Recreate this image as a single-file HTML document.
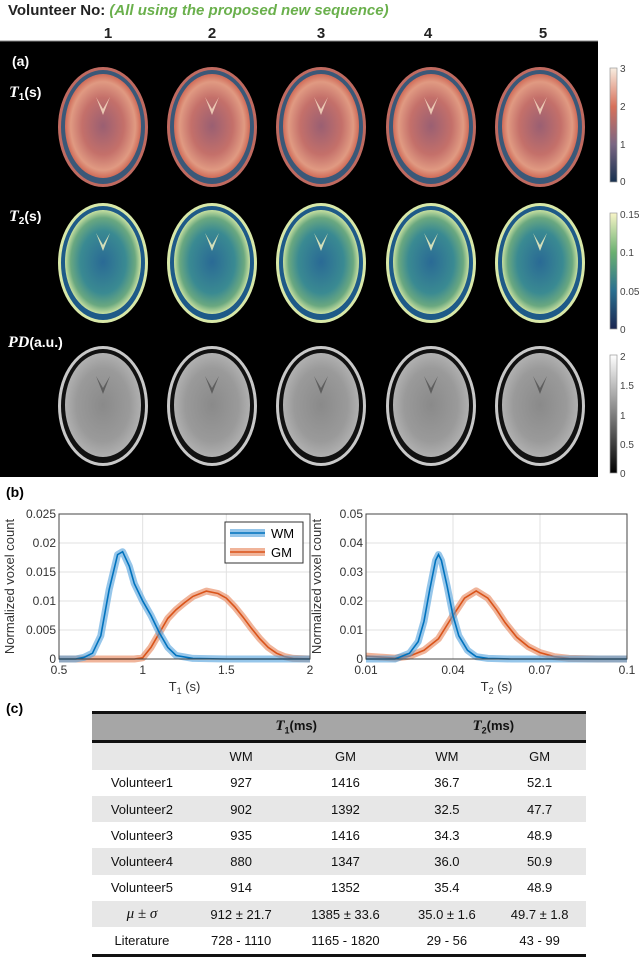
<!DOCTYPE html>
<html><head><meta charset="utf-8"><style>
body{margin:0;width:640px;height:953px;background:#fff;position:relative;overflow:hidden;font-family:"Liberation Sans",sans-serif}
.abs{position:absolute}
#tbl{position:absolute;left:92px;top:711px;width:494px;border-collapse:collapse;font-size:13px;color:#111}
#tbl td{height:26.3px;text-align:center;padding:0}
</style></head><body>
<div class="abs" style="left:8px;top:2px;font-size:15px;font-weight:bold;color:#222">Volunteer No: <i style="color:#6ab04c">(All using the proposed new sequence)</i></div>
<svg class="abs" style="left:0;top:0" width="640" height="490">
<defs>
<radialGradient id="g1" cx="50%" cy="50%" r="50%"><stop offset="0" stop-color="#9a5f72"/><stop offset="0.55" stop-color="#c4706a"/><stop offset="0.85" stop-color="#e09a82"/><stop offset="1" stop-color="#d06b58"/></radialGradient>
<radialGradient id="g2" cx="50%" cy="50%" r="50%"><stop offset="0" stop-color="#2a6a95"/><stop offset="0.6" stop-color="#3a8a92"/><stop offset="0.85" stop-color="#6aa880"/><stop offset="1" stop-color="#c8e0a0"/></radialGradient>
<radialGradient id="g3" cx="50%" cy="50%" r="50%"><stop offset="0" stop-color="#8a8a8a"/><stop offset="0.7" stop-color="#9a9a9a"/><stop offset="1" stop-color="#b0b0b0"/></radialGradient>
<linearGradient id="c1" x1="0" y1="1" x2="0" y2="0"><stop offset="0" stop-color="#17304f"/><stop offset="0.33" stop-color="#7a6683"/><stop offset="0.66" stop-color="#d7705a"/><stop offset="1" stop-color="#f8ede0"/></linearGradient>
<linearGradient id="c2" x1="0" y1="1" x2="0" y2="0"><stop offset="0" stop-color="#1a2550"/><stop offset="0.33" stop-color="#2a7090"/><stop offset="0.66" stop-color="#6ab070"/><stop offset="1" stop-color="#f8f5c8"/></linearGradient>
<linearGradient id="c3" x1="0" y1="1" x2="0" y2="0"><stop offset="0" stop-color="#000"/><stop offset="1" stop-color="#fff"/></linearGradient>
</defs>
<rect x="0" y="41" width="598" height="436" fill="#000"/>
<line x1="0" y1="41" x2="598" y2="41" stroke="#888"/>
<g font-family="Liberation Sans" font-weight="bold" font-size="15" fill="#222" text-anchor="middle">
<text x="108" y="38">1</text>
<text x="212" y="38">2</text>
<text x="321" y="38">3</text>
<text x="428" y="38">4</text>
<text x="543" y="38">5</text>
</g>
<g fill="#fff" font-weight="bold" font-size="14">
<text x="12" y="66" font-family="Liberation Sans">(a)</text>
<text x="9" y="97"><tspan font-family="Liberation Serif" font-style="italic" font-size="16">T</tspan><tspan font-size="10" dy="3">1</tspan><tspan dy="-3" font-family="Liberation Sans">(s)</tspan></text>
<text x="9" y="221"><tspan font-family="Liberation Serif" font-style="italic" font-size="16">T</tspan><tspan font-size="10" dy="3">2</tspan><tspan dy="-3" font-family="Liberation Sans">(s)</tspan></text>
<text x="8" y="347"><tspan font-family="Liberation Serif" font-style="italic" font-size="16">PD</tspan><tspan font-family="Liberation Sans">(a.u.)</tspan></text>
</g>
<g id="brains"></g>
<g font-size="10" fill="#444" font-family="Liberation Sans">
<rect x="610" y="68" width="7" height="114" fill="url(#c1)" stroke="#999" stroke-width="0.7"/>
<text x="620" y="72">3</text><text x="620" y="110">2</text><text x="620" y="148">1</text><text x="620" y="185">0</text>
<rect x="610" y="213" width="7" height="116" fill="url(#c2)" stroke="#999" stroke-width="0.7"/>
<text x="620" y="218">0.15</text><text x="620" y="256">0.1</text><text x="620" y="295">0.05</text><text x="620" y="333">0</text>
<rect x="610" y="355" width="7" height="118" fill="url(#c3)" stroke="#999" stroke-width="0.7"/>
<text x="620" y="360">2</text><text x="620" y="389">1.5</text><text x="620" y="419">1</text><text x="620" y="448">0.5</text><text x="620" y="477">0</text>
</g>
</svg>
<div class="abs" style="left:6px;top:484px;font-size:14px;font-weight:bold">(b)</div>
<svg class="abs" style="left:0;top:490px" width="640" height="210" id="charts"></svg>
<div class="abs" style="left:6px;top:700px;font-size:14px;font-weight:bold">(c)</div>
<table id="tbl">
<tr style="background:#a6a6a6;border-top:3px solid #111;border-bottom:3px solid #111"><td style="height:25px"></td><td colspan="2"><b><i style="font-family:'Liberation Serif';font-size:15px">T</i><sub style="font-size:9px">1</sub>(ms)</b></td><td colspan="2"><b><i style="font-family:'Liberation Serif';font-size:15px">T</i><sub style="font-size:9px">2</sub>(ms)</b></td></tr>
<tr style="background:#e7e7e7"><td></td><td>WM</td><td>GM</td><td>WM</td><td>GM</td></tr>
<tr><td>Volunteer1</td><td>927</td><td>1416</td><td>36.7</td><td>52.1</td></tr>
<tr style="background:#e7e7e7"><td>Volunteer2</td><td>902</td><td>1392</td><td>32.5</td><td>47.7</td></tr>
<tr><td>Volunteer3</td><td>935</td><td>1416</td><td>34.3</td><td>48.9</td></tr>
<tr style="background:#e7e7e7"><td>Volunteer4</td><td>880</td><td>1347</td><td>36.0</td><td>50.9</td></tr>
<tr><td>Volunteer5</td><td>914</td><td>1352</td><td>35.4</td><td>48.9</td></tr>
<tr style="background:#e7e7e7"><td><i style="font-family:'Liberation Serif';font-size:15px">μ ± σ</i></td><td>912 ± 21.7</td><td>1385 ± 33.6</td><td>35.0 ± 1.6</td><td>49.7 ± 1.8</td></tr>
<tr style="border-bottom:3px solid #111"><td>Literature</td><td>728 - 1110</td><td>1165 - 1820</td><td>29 - 56</td><td>43 - 99</td></tr>
</table>
<script>
const brainCenters=[103,212,321,431,540];
const NS="http://www.w3.org/2000/svg";
const bg=document.getElementById('brains');
function mk(t,a){const e=document.createElementNS(NS,t);for(const k in a)e.setAttribute(k,a[k]);return e;}
const rows=[{cy:127,ring:'#3a5878',fill:'url(#g1)',outer:'#c06a60',id:'t1',mark:'#f4d8c0'},{cy:263,ring:'#1e5a88',fill:'url(#g2)',outer:'#d8e8a8',id:'t2',mark:'#f0f0c0'},{cy:406,ring:'#111',fill:'url(#g3)',outer:'#c8c8c8',id:'pd',mark:'#555'}];
rows.forEach(r=>{brainCenters.forEach((cx,i)=>{
  const g=mk('g',{});
  
  
  g.appendChild(mk('ellipse',{cx:cx,cy:r.cy,rx:45,ry:60,fill:r.outer}));
  g.appendChild(mk('ellipse',{cx:cx,cy:r.cy,rx:42,ry:57,fill:r.ring}));
  g.appendChild(mk('ellipse',{cx:cx,cy:r.cy-1,rx:38,ry:52,fill:r.fill}));
  g.appendChild(mk('path',{d:'M'+(cx-7)+','+(r.cy-30)+' L'+cx+','+(r.cy-18)+' L'+(cx+7)+','+(r.cy-30)+' L'+cx+','+(r.cy-12)+'Z',fill:r.mark,opacity:0.85}));
  bg.appendChild(g);
});});
const t1X=[0.5,0.6,0.65,0.7,0.75,0.8,0.85,0.88,0.92,0.95,1.0,1.05,1.1,1.15,1.2,1.3,1.5,2.0];
const t1WM=[0,0,0.0003,0.001,0.004,0.012,0.018,0.0185,0.016,0.013,0.010,0.0075,0.0045,0.002,0.0006,0.0001,0,0];
const t1GX=[0.5,0.95,1.0,1.05,1.1,1.15,1.2,1.25,1.3,1.38,1.45,1.5,1.55,1.6,1.65,1.7,1.75,1.8,1.85,1.9,2.0];
const t1GM=[0,0,0.0002,0.002,0.0045,0.007,0.0085,0.0097,0.0108,0.0117,0.0113,0.0105,0.009,0.0072,0.0053,0.0035,0.002,0.001,0.0004,0.0001,0];
const t2X=[0.01,0.02,0.025,0.028,0.03,0.032,0.034,0.035,0.036,0.038,0.04,0.042,0.045,0.048,0.052,0.06,0.1];
const t2WM=[0,0,0.002,0.006,0.013,0.024,0.034,0.036,0.034,0.025,0.015,0.008,0.003,0.0008,0.0002,0,0];
const t2GX=[0.01,0.02,0.025,0.03,0.035,0.04,0.044,0.048,0.052,0.055,0.058,0.062,0.066,0.07,0.075,0.08,0.09,0.1];
const t2GM=[0.001,0.0003,0.001,0.003,0.007,0.015,0.021,0.0235,0.021,0.017,0.0125,0.0075,0.0042,0.0022,0.0008,0.0002,0,0];
const t1XTicks=[0.5,1,1.5,2], t1YTicks=[0,0.005,0.01,0.015,0.02,0.025];
const t2XTicks=[0.01,0.04,0.07,0.1], t2YTicks=[0,0.01,0.02,0.03,0.04,0.05];
const t1YLabels=['0','0.005','0.01','0.015','0.02','0.025'];
const t2YLabels=['0','0.01','0.02','0.03','0.04','0.05'];
const svg=document.getElementById('charts');
function chart(o){
  const x0=o.x0,x1=o.x1,y0=24,y1=169;
  const sx=v=>x0+(v-o.xmin)/(o.xmax-o.xmin)*(x1-x0);
  const sy=v=>y1-(v-o.ymin)/(o.ymax-o.ymin)*(y1-y0);
  const g=mk('g',{});
  
  
  svg.appendChild(g);
  o.xt.forEach(t=>{g.appendChild(mk('line',{x1:sx(t),x2:sx(t),y1:y0,y2:y1,stroke:'#e2e2e2'}));
    const tx=mk('text',{x:sx(t),y:y1+15,'text-anchor':'middle','font-size':12,fill:'#333'});tx.textContent=t;g.appendChild(tx);});
  o.yt.forEach((t,i)=>{g.appendChild(mk('line',{x1:x0,x2:x1,y1:sy(t),y2:sy(t),stroke:'#e2e2e2'}));
    const tx=mk('text',{x:x0-3,y:sy(t)+4,'text-anchor':'end','font-size':12,fill:'#333'});tx.textContent=o.yl[i];g.appendChild(tx);});
  function curve(xs,ys,col,band,nm){
    const d=xs.map((x,i)=>(i?'L':'M')+sx(x).toFixed(1)+','+sy(ys[i]).toFixed(1)).join('');
    const b=mk('path',{d:d,fill:'none',stroke:band,'stroke-width':7,'stroke-linejoin':'round'});
    g.appendChild(b);
    const p=mk('path',{d:d,fill:'none',stroke:col,'stroke-width':1.6});
    g.appendChild(p);
  }
  curve(o.gx,o.gm,'#d95319','rgba(232,140,100,0.65)','gm-'+o.name);
  curve(o.wx,o.wm,'#0072bd','rgba(80,160,220,0.6)','wm-'+o.name);
  g.appendChild(mk('rect',{x:x0,y:y0,width:x1-x0,height:y1-y0,fill:'none',stroke:'#444'}));
  const xl=mk('text',{x:(x0+x1)/2,y:y1+32,'text-anchor':'middle','font-size':13,fill:'#333'});
  xl.innerHTML=o.xlab+'<tspan font-size="9" dy="3">'+o.sub+'</tspan><tspan dy="-3"> (s)</tspan>';
  g.appendChild(xl);
  const yl=mk('text',{x:0,y:0,'text-anchor':'middle','font-size':13,fill:'#333',transform:'translate('+(x0-45)+','+((y0+y1)/2)+') rotate(-90)'});
  yl.textContent='Normalized voxel count';
  g.appendChild(yl);
  return g;
}
chart({name:'t1-histogram',x0:59,x1:310,xmin:0.5,xmax:2,ymin:0,ymax:0.025,xt:t1XTicks,yt:t1YTicks,yl:t1YLabels,wx:t1X,wm:t1WM,gx:t1GX,gm:t1GM,xlab:'T',sub:'1'});
chart({name:'t2-histogram',x0:366,x1:627,xmin:0.01,xmax:0.1,ymin:0,ymax:0.05,xt:t2XTicks,yt:t2YTicks,yl:t2YLabels,wx:t2X,wm:t2WM,gx:t2GX,gm:t2GM,xlab:'T',sub:'2'});
const lg=mk('g',{});


svg.appendChild(lg);
lg.appendChild(mk('rect',{x:225,y:32,width:78,height:41,fill:'#fff',stroke:'#333'}));
lg.appendChild(mk('line',{x1:230,x2:265,y1:43,y2:43,stroke:'rgba(80,160,220,0.6)','stroke-width':8}));
lg.appendChild(mk('line',{x1:230,x2:265,y1:43,y2:43,stroke:'#0072bd','stroke-width':1.6}));
lg.appendChild(mk('line',{x1:230,x2:265,y1:62,y2:62,stroke:'rgba(232,140,100,0.65)','stroke-width':8}));
lg.appendChild(mk('line',{x1:230,x2:265,y1:62,y2:62,stroke:'#d95319','stroke-width':1.6}));
const l1=mk('text',{x:271,y:48,'font-size':13});l1.textContent='WM';


lg.appendChild(l1);
const l2=mk('text',{x:271,y:67,'font-size':13});l2.textContent='GM';


lg.appendChild(l2);
</script>
</body></html>
